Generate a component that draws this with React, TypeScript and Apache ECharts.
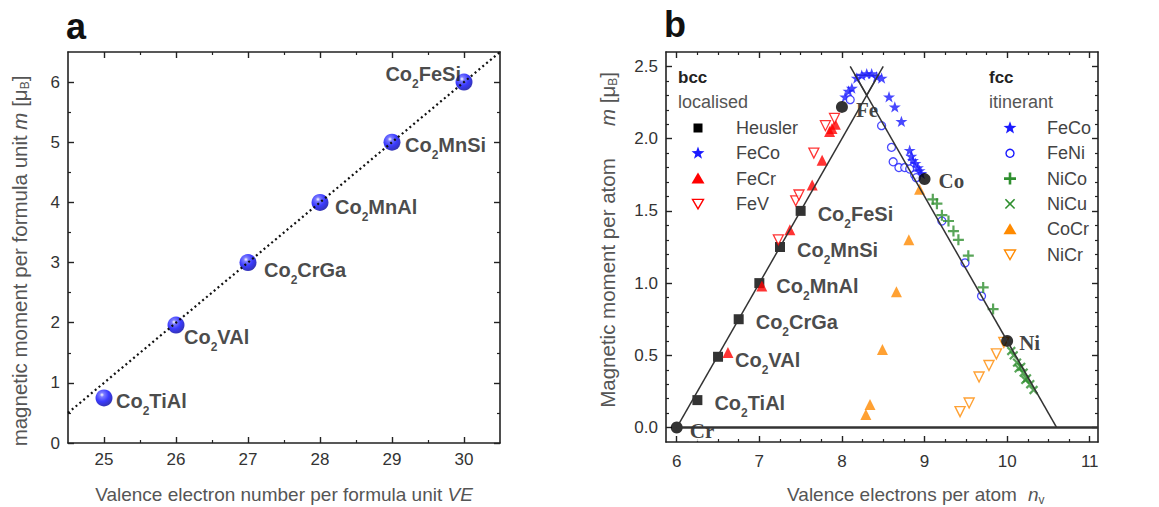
import React, { useEffect, useRef } from "react";
import * as echarts from "echarts";

// ---------- Panel a data ----------
const aVE = [25, 26, 27, 28, 29, 30];
const aMoment = [0.75, 1.96, 3.0, 4.0, 5.0, 6.0];
const aCompounds = ["Co2TiAl", "Co2VAl", "Co2CrGa", "Co2MnAl", "Co2MnSi", "Co2FeSi"];
const aSlaterPauling = [[24.5, 0.5], [30.5, 6.5]];
const aTicksX = [25, 26, 27, 28, 29, 30];
const aMinorTicksX = [25.5, 26.5, 27.5, 28.5, 29.5];
const aTicksY = [0, 1, 2, 3, 4, 5, 6];
const aMinorTicksY = [0.5, 1.5, 2.5, 3.5, 4.5, 5.5];

// ---------- Panel b data ----------
const bHeuslerNv = [6.25, 6.5, 6.75, 7.0, 7.25, 7.5];
const bHeuslerM = [0.19, 0.49, 0.75, 1.0, 1.25, 1.5];
const bHeuslerNames = ["Co2TiAl", "Co2VAl", "Co2CrGa", "Co2MnAl", "Co2MnSi", "Co2FeSi"];
const bElements = ["Cr", "Fe", "Co", "Ni"];
const bElementNv = [6, 8, 9, 10];
const bElementM = [0, 2.22, 1.72, 0.6];
const bBccFeCo = [[8.04, 2.29], [8.08, 2.33], [8.12, 2.35], [8.18, 2.42], [8.24, 2.44], [8.3, 2.45], [8.36, 2.45], [8.42, 2.43], [8.48, 2.42], [8.57, 2.29], [8.64, 2.22], [8.72, 2.12]];
const bFeCr = [[6.62, 0.52], [7.03, 0.98], [7.37, 1.37], [7.64, 1.68], [7.76, 1.85], [7.85, 2.05], [7.88, 2.07], [7.92, 2.1]];
const bFeV = [[7.23, 1.3], [7.44, 1.57], [7.48, 1.61], [7.66, 1.9], [7.8, 2.09], [7.91, 2.14]];
const bFccFeCo = [[8.82, 1.92], [8.84, 1.88], [8.86, 1.85], [8.89, 1.83], [8.92, 1.8], [8.94, 1.78], [8.96, 1.76]];
const bFeNi = [[8.1, 2.27], [8.48, 2.09], [8.6, 1.94], [8.62, 1.84], [8.69, 1.8], [8.76, 1.8], [8.82, 1.79], [8.88, 1.75], [8.9, 1.73], [9.21, 1.43], [9.49, 1.14], [9.69, 0.91]];
const bNiCo = [[9.1, 1.58], [9.15, 1.55], [9.21, 1.47], [9.29, 1.43], [9.35, 1.36], [9.41, 1.3], [9.53, 1.19], [9.71, 0.97], [9.83, 0.82]];
const bNiCu = [[10.05, 0.53], [10.08, 0.5], [10.12, 0.45], [10.14, 0.41], [10.17, 0.42], [10.2, 0.38], [10.22, 0.33], [10.24, 0.34], [10.28, 0.3], [10.32, 0.26]];
const bCoCr = [[8.94, 1.65], [8.81, 1.3], [8.66, 0.94], [8.49, 0.54], [8.34, 0.16], [8.29, 0.09]];
const bNiCr = [[9.96, 0.59], [9.87, 0.51], [9.78, 0.43], [9.66, 0.35], [9.54, 0.17], [9.43, 0.11]];
const bCrossing = [[8.3, 2.37]];
const bLeftLine = [[6, 0], [8.5, 2.5]];
const bRightLine = [[8.1, 2.5], [10.6, 0]];
const bBaseLine = [[6, 0], [11.1, 0]];
const bTicksX = [6, 7, 8, 9, 10, 11];
const bMinorTicksX = [6.25, 6.5, 6.75, 7.25, 7.5, 7.75, 8.25, 8.5, 8.75, 9.25, 9.5, 9.75, 10.25, 10.5, 10.75];
const bTicksY = [0, 0.5, 1, 1.5, 2, 2.5];
const bMinorTicksY = [0.1, 0.2, 0.3, 0.4, 0.6, 0.7, 0.8, 0.9, 1.1, 1.2, 1.3, 1.4, 1.6, 1.7, 1.8, 1.9, 2.1, 2.2, 2.3, 2.4];
const bccLegend = ["Heusler", "FeCo", "FeCr", "FeV"];
const fccLegend = ["FeCo", "FeNi", "NiCo", "NiCu", "CoCr", "NiCr"];

// ---------- styles ----------
const SANS = '"Liberation Sans", Arial, sans-serif';
const SERIF = '"Liberation Serif", "Times New Roman", serif';
const AXC = "#222";
const BLUE = "#1a1aff";
const RED = "#ff0000";
const GREEN = "#2f8f2f";
const ORANGE = "#ff8a00";
const STAR = "path://M50,0 L61.8,35.1 L98.1,35.1 L68.8,56.7 L79.4,91 L50,70 L20.6,91 L31.2,56.7 L1.9,35.1 L38.2,35.1 Z";
const PLUS = "path://M40,0 H60 V40 H100 V60 H60 V100 H40 V60 H0 V40 H40 Z";

const aLabelOffset = [[12, 3], [8, 12], [16, 7], [15, 5], [13, 3], [-3, -8]];
const aLabelAlign = ["left", "left", "left", "left", "left", "right"];
const bElementOffset = [[12, 3], [13, 3], [13, 2], [11, 2]];

function chem(name: string) {
  return "{b|" + name.replace(/(\d)/, "}{s|$1}{b|") + "}";
}

const chemRich = {
  b: { fontSize: 20, fontWeight: "bold", fontFamily: SANS, color: "#1a1a1a" },
  s: { fontSize: 12, fontWeight: "bold", fontFamily: SANS, color: "#1a1a1a", padding: [20, 0, 0, 0] },
};

function axes(dim: "x" | "y", grid: number, min: number, max: number, major: number[], minor: number[], fmt: (v: number) => string, margin: number) {
  const mainPos = dim === "x" ? "bottom" : "left";
  const oppPos = dim === "x" ? "top" : "right";
  const base = { type: "value", gridIndex: grid, min, max, splitLine: { show: false }, scale: true };
  const line = { show: true, onZero: false, lineStyle: { color: AXC, width: 1.6 } };
  const noLine = { show: false, onZero: false };
  const tickMaj = { show: true, inside: true, length: 6, customValues: major, lineStyle: { color: AXC, width: 1.4 } };
  const tickMin = { show: true, inside: true, length: 3, customValues: minor, lineStyle: { color: AXC, width: 1.2 } };
  return [
    { ...base, position: mainPos, axisLine: line, axisTick: tickMaj, axisLabel: { show: true, customValues: major, formatter: fmt, margin, color: "#333", fontSize: 17, fontFamily: SANS } },
    { ...base, position: mainPos, axisLine: noLine, axisTick: tickMin, axisLabel: { show: false } },
    { ...base, position: oppPos, axisLine: line, axisTick: tickMaj, axisLabel: { show: false } },
    { ...base, position: oppPos, axisLine: noLine, axisTick: tickMin, axisLabel: { show: false } },
  ];
}

function starPoints(cx: number, cy: number, R: number, r: number) {
  const pts: number[][] = [];
  for (let k = 0; k < 10; k++) {
    const ang = -Math.PI / 2 + (k * Math.PI) / 5;
    const rad = k % 2 ? r : R;
    pts.push([cx + rad * Math.cos(ang), cy + rad * Math.sin(ang)]);
  }
  return pts;
}
const plusPts = (a: number, t: number) => [[-t, -a], [t, -a], [t, -t], [a, -t], [a, t], [t, t], [t, a], [-t, a], [-t, t], [-a, t], [-a, -t], [-t, -t]];

function marker(kind: string, color: string, cx: number, cy: number): any {
  switch (kind) {
    case "square":
      return { type: "rect", shape: { x: cx - 4.5, y: cy - 4.5, width: 9, height: 9 }, style: { fill: color } };
    case "star":
      return { type: "polygon", shape: { points: starPoints(cx, cy, 6.8, 2.8) }, style: { fill: color } };
    case "triUp":
      return { type: "polygon", shape: { points: [[cx, cy - 6], [cx + 6.5, cy + 5], [cx - 6.5, cy + 5]] }, style: { fill: color } };
    case "triDown":
      return { type: "polygon", shape: { points: [[cx - 5.5, cy - 4.5], [cx + 5.5, cy - 4.5], [cx, cy + 5]] }, style: { fill: "#fff", stroke: color, lineWidth: 1.4 } };
    case "circle":
      return { type: "circle", shape: { cx, cy, r: 4 }, style: { fill: "#fff", stroke: color, lineWidth: 1.4 } };
    case "plus":
      return { type: "polygon", x: cx, y: cy, shape: { points: plusPts(6, 1.3) }, style: { fill: color } };
    case "cross":
      return { type: "polygon", x: cx, y: cy, rotation: Math.PI / 4, shape: { points: plusPts(6.5, 0.8) }, style: { fill: color } };
  }
  return null;
}

const bccKinds = ["square", "star", "triUp", "triDown"];
const bccColors = ["#000", BLUE, RED, RED];
const fccKinds = ["star", "circle", "plus", "cross", "triUp", "triDown"];
const fccColors = [BLUE, BLUE, GREEN, GREEN, ORANGE, ORANGE];

function buildGraphic() {
  const g: any[] = [];
  const txt = (x: number, y: number, text: string, font: string, fill: string, align = "left", extra: any = {}) => ({
    type: "text", x, y, ...extra,
    style: { text, font, fill, align, verticalAlign: "middle", ...(extra.style || {}) },
  });
  g.push(txt(66, 26, "a", `bold 36px ${SANS}`, "#111"));
  g.push(txt(664, 24, "b", `bold 36px ${SANS}`, "#111"));
  // axis titles panel a
  g.push({
    type: "text", x: 284, y: 494,
    style: {
      text: "Valence electron number per formula unit {i|VE}", font: `19px ${SANS}`, fill: "#555", align: "center", verticalAlign: "middle",
      rich: { i: { font: `italic 19px ${SANS}`, fill: "#555" } },
    },
  });
  g.push({
    type: "text", x: 19, y: 261, rotation: Math.PI / 2,
    style: {
      text: "magnetic moment per formula unit {i|m} [μ{s|B}]", font: `20.5px ${SANS}`, fill: "#555", align: "center", verticalAlign: "middle",
      rich: { i: { font: `italic 20.5px ${SANS}`, fill: "#555" }, s: { font: `12px ${SANS}`, fill: "#555", padding: [12, 0, 0, 0] } },
    },
  });
  // axis titles panel b
  g.push(txt(902, 494, "Valence electrons per atom", `19px ${SANS}`, "#555", "center"));
  g.push({
    type: "text", x: 1028, y: 494,
    style: {
      text: "{i|n}{s|v}", font: `19px ${SANS}`, fill: "#555", align: "left", verticalAlign: "middle",
      rich: { i: { font: `italic 19px ${SANS}`, fill: "#555" }, s: { font: `12px ${SANS}`, fill: "#555", padding: [12, 0, 0, 0] } },
    },
  });
  g.push({ type: "text", x: 607, y: 283, rotation: Math.PI / 2, style: { text: "Magnetic moment per atom", font: `20.5px ${SANS}`, fill: "#555", align: "center", verticalAlign: "middle" } });
  g.push({
    type: "text", x: 607, y: 99, rotation: Math.PI / 2,
    style: {
      text: "{i|m} [μ{s|B}]", font: `20.5px ${SANS}`, fill: "#555", align: "center", verticalAlign: "middle",
      rich: { i: { font: `italic 20.5px ${SANS}`, fill: "#555" }, s: { font: `12px ${SANS}`, fill: "#555", padding: [12, 0, 0, 0] } },
    },
  });
  // legends
  g.push(txt(678, 77, "bcc", `bold 17px ${SANS}`, "#222"));
  g.push(txt(678, 102, "localised", `18px ${SANS}`, "#555"));
  bccLegend.forEach((name, i) => {
    const y = 128 + i * 25.3;
    g.push(marker(bccKinds[i], bccColors[i], 698, y));
    g.push(txt(736, y, name, `18px ${SANS}`, "#444"));
  });
  g.push(txt(989, 77, "fcc", `bold 17px ${SANS}`, "#222"));
  g.push(txt(989, 102, "itinerant", `18px ${SANS}`, "#555"));
  fccLegend.forEach((name, i) => {
    const y = 128 + i * 25.3;
    g.push(marker(fccKinds[i], fccColors[i], 1010, y));
    g.push(txt(1047, y, name, `18px ${SANS}`, "#444"));
  });
  return g;
}

export default function App() {
  const ref = useRef<HTMLDivElement>(null);
  useEffect(() => {
    if (!ref.current) return;
    const chart = echarts.init(ref.current, undefined, { renderer: "svg" });
    const ball = new echarts.graphic.RadialGradient(0.38, 0.32, 0.72, [
      { offset: 0, color: "#ffffff" },
      { offset: 0.18, color: "#5a5aff" },
      { offset: 0.55, color: "#0a0aff" },
      { offset: 1, color: "#00009a" },
    ]);
    const fmtInt = (v: number) => String(v);
    const fmt1 = (v: number) => v.toFixed(1);
    const xAxes = [
      ...axes("x", 0, 24.5, 30.5, aTicksX, aMinorTicksX, fmtInt, 8),
      ...axes("x", 1, 5.87, 11.1, bTicksX, bMinorTicksX, fmtInt, 11),
    ];
    const yAxes = [
      ...axes("y", 0, 0, 6.5, aTicksY, aMinorTicksY, fmtInt, 8),
      ...axes("y", 1, -0.1, 2.6, bTicksY, bMinorTicksY, fmt1, 8),
    ];
    const bScatter = (data: any[], extra: any) => ({
      type: "scatter", xAxisIndex: 4, yAxisIndex: 4, data, symbolKeepAspect: true, ...extra,
    });
    const bLine = (data: number[][], width = 1.5) => ({
      type: "line", xAxisIndex: 4, yAxisIndex: 4, data, symbol: "none", silent: true,
      lineStyle: { color: "#333", width },
    });
    const option: any = {
      animation: false,
      backgroundColor: "#fff",
      grid: [
        { left: 68, top: 52, width: 432, height: 391 },
        { left: 666, top: 52, width: 432, height: 390 },
      ],
      xAxis: xAxes,
      yAxis: yAxes,
      graphic: buildGraphic(),
      series: [
        {
          type: "line", xAxisIndex: 0, yAxisIndex: 0, data: aSlaterPauling, symbol: "none", silent: true,
          lineStyle: { color: "#111", width: 2.2, type: [2, 3] },
        },
        {
          type: "scatter", xAxisIndex: 0, yAxisIndex: 0, symbolSize: 17,
          itemStyle: { color: ball },
          data: aVE.map((x, i) => ({
            value: [x, aMoment[i]],
            label: { position: [8.5 + aLabelOffset[i][0], 8.5 + aLabelOffset[i][1]], align: aLabelAlign[i] },
          })),
          label: { show: true, verticalAlign: "middle", formatter: (p: any) => chem(aCompounds[p.dataIndex]), rich: chemRich },
        },
        bLine(bLeftLine),
        bLine(bRightLine),
        bLine(bBaseLine, 2.4),
        bScatter(bCrossing, { symbol: "triangle", symbolRotate: 180, symbolSize: [23, 20], symbolKeepAspect: false, itemStyle: { color: "#fff", borderColor: "#333", borderWidth: 1.5 } }),
        bScatter(bHeuslerNv.map((x, i) => [x, bHeuslerM[i]]), {
          symbol: "rect", symbolSize: 10, itemStyle: { color: "#000" },
          label: { show: true, position: [5 + 17, 5 + 3], align: "left", verticalAlign: "middle", formatter: (p: any) => chem(bHeuslerNames[p.dataIndex]), rich: chemRich },
        }),
        bScatter(bFeCr, { symbol: "triangle", symbolSize: 11, itemStyle: { color: RED } }),
        bScatter(bFeV, { symbol: "triangle", symbolRotate: 180, symbolSize: 10, itemStyle: { color: "#fff", borderColor: RED, borderWidth: 1.3 } }),
        bScatter(bBccFeCo, { symbol: STAR, symbolSize: 12, itemStyle: { color: BLUE } }),
        bScatter(bFccFeCo, { symbol: STAR, symbolSize: 12, itemStyle: { color: BLUE } }),
        bScatter(bFeNi, { symbol: "circle", symbolSize: 8, itemStyle: { color: "#fff", borderColor: BLUE, borderWidth: 1.3 } }),
        bScatter(bNiCo, { symbol: PLUS, symbolSize: 11, itemStyle: { color: GREEN } }),
        bScatter(bNiCu, { symbol: PLUS, symbolRotate: 45, symbolSize: 11, itemStyle: { color: GREEN } }),
        bScatter(bCoCr, { symbol: "triangle", symbolSize: 11, itemStyle: { color: ORANGE } }),
        bScatter(bNiCr, { symbol: "triangle", symbolRotate: 180, symbolSize: 10, itemStyle: { color: "#fff", borderColor: ORANGE, borderWidth: 1.4 } }),
        bScatter(bElementNv.map((x, i) => ({
          value: [x, bElementM[i]],
          label: { position: [6 + bElementOffset[i][0], 6 + bElementOffset[i][1]] },
        })), {
          symbol: "circle", symbolSize: 12, itemStyle: { color: "#000" },
          label: {
            show: true, align: "left", verticalAlign: "middle", formatter: (p: any) => bElements[p.dataIndex],
            fontFamily: SERIF, fontWeight: "bold", fontSize: 21, color: "#111", backgroundColor: "#fff", padding: [0, 1, 0, 1],
          },
        }),
      ],
    };
    chart.setOption(option);
    return () => chart.dispose();
  }, []);
  return <div ref={ref} style={{ position: "absolute", left: 0, top: 0, width: 1159, height: 507, background: "#fff" }} />;
}
